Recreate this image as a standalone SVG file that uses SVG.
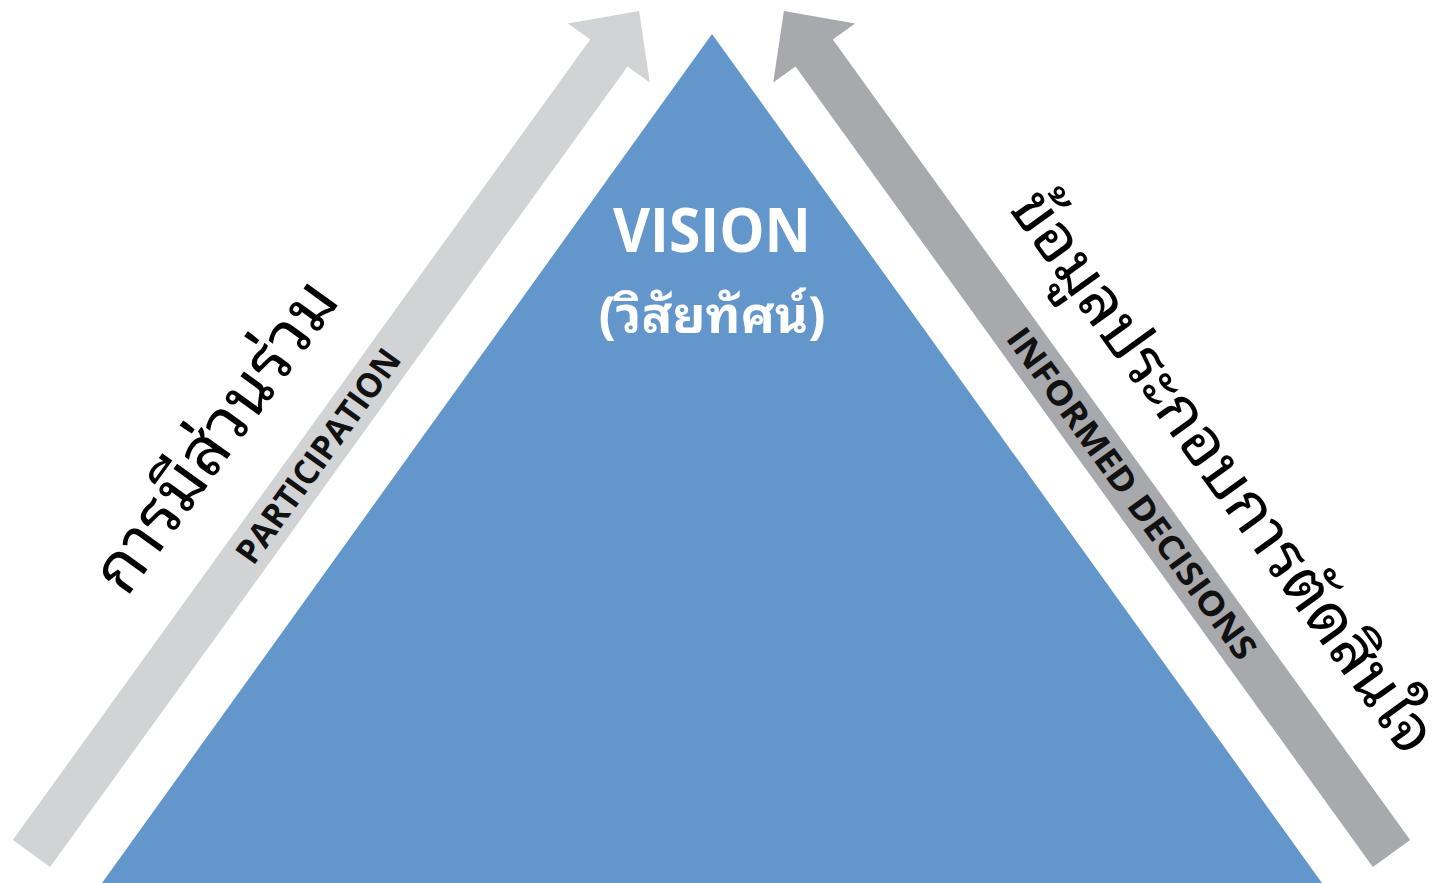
<svg xmlns="http://www.w3.org/2000/svg" width="1443" height="883" viewBox="0 0 1443 883">
  <style>
    .en { font-family: "Open Sans", "Liberation Sans", sans-serif; font-weight: 700; }
    .th { font-family: "Noto Sans Thai Looped", "Noto Sans Thai", "Tahoma", "Loma", "Garuda", "Noto Sans", sans-serif; }
    .lbl-en { font-size: 34px; fill: #111; text-anchor: middle; }
    .lbl-th { font-size: 68px; fill: #000; text-anchor: middle; }
  </style>
  <defs>
    <path id="arrowShape" d="M0,-23 L987,-23 L987,-50.5 L1038.7,0 L987,50.5 L987,23 L0,23 Z"/>
  </defs>
  <rect width="1443" height="883" fill="#ffffff"/>

  <g id="vision">
    <polygon points="712,34 102,883 1322,883" fill="#6396cb"/>
    <text class="en" x="712" y="252" font-size="60" fill="#ffffff" text-anchor="middle" textLength="198" lengthAdjust="spacingAndGlyphs">VISION</text>
    <text class="th" x="712" y="333" font-size="51" font-weight="700" fill="#ffffff" text-anchor="middle">(วิสัยทัศน์)</text>
  </g>

  <g id="connectors">
    <g id="participation-arrow" transform="translate(31.5,853.5) rotate(-54.2)">
      <use href="#arrowShape" fill="#d1d3d5"/>
    </g>
    <g id="informed-arrow" transform="translate(1423,0) scale(-1,1) translate(31.5,853.5) rotate(-54.2)">
      <use href="#arrowShape" fill="#a7a9ac"/>
    </g>
  </g>

  <g id="participation" transform="translate(31.5,853.5) rotate(-54.2)">
    <text class="en lbl-en" x="490" y="12" textLength="255" lengthAdjust="spacingAndGlyphs">PARTICIPATION</text>
    <text class="th lbl-th" x="446" y="-72">การมีส่วนร่วม</text>
  </g>

  <g id="informed-decisions" transform="translate(1391.5,853.5) rotate(54.2)">
    <text class="en lbl-en" x="-444" y="12" textLength="400" lengthAdjust="spacingAndGlyphs">INFORMED  DECISIONS</text>
    <text class="th" x="-408" y="-66" font-size="64" fill="#000" text-anchor="middle">ข้อมูลประกอบการตัดสินใจ</text>
  </g>
</svg>
